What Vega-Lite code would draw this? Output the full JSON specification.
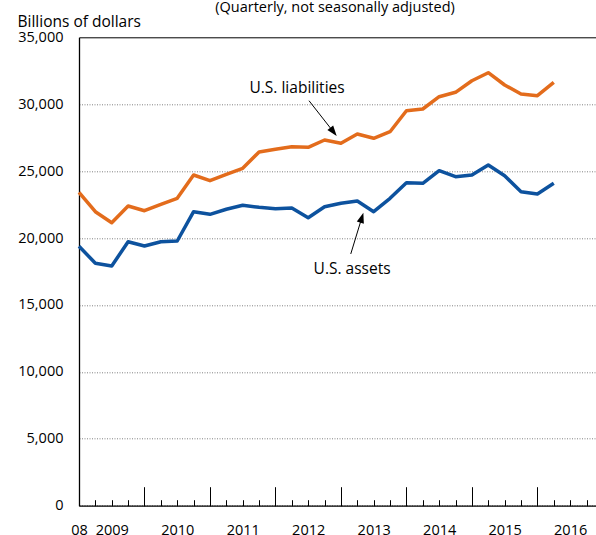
{
  "$schema": "https://vega.github.io/schema/vega-lite/v6.json",
  "width": 517,
  "height": 468.4,
  "autosize": {"type": "none"},
  "padding": {"left": 79, "top": 37.3, "right": 0, "bottom": 29.3},
  "config": {
    "font": "Open Sans",
    "view": {"stroke": null},
    "axis": {
      "labelFont": "Open Sans",
      "labelFontSize": 14.5,
      "labelColor": "#000000",
      "titleFont": "Open Sans",
      "titleFontSize": 14.5,
      "titleFontWeight": "normal",
      "titleColor": "#000000",
      "domainColor": "#000000",
      "tickColor": "#000000"
    }
  },
  "datasets": {
    "position": [
      {"q": 0, "series": "U.S. liabilities", "value": 23418},
      {"q": 1, "series": "U.S. liabilities", "value": 21968},
      {"q": 2, "series": "U.S. liabilities", "value": 21146},
      {"q": 3, "series": "U.S. liabilities", "value": 22394},
      {"q": 4, "series": "U.S. liabilities", "value": 22043},
      {"q": 5, "series": "U.S. liabilities", "value": 22521},
      {"q": 6, "series": "U.S. liabilities", "value": 22969},
      {"q": 7, "series": "U.S. liabilities", "value": 24711},
      {"q": 8, "series": "U.S. liabilities", "value": 24284},
      {"q": 9, "series": "U.S. liabilities", "value": 24762},
      {"q": 10, "series": "U.S. liabilities", "value": 25211},
      {"q": 11, "series": "U.S. liabilities", "value": 26429},
      {"q": 12, "series": "U.S. liabilities", "value": 26630},
      {"q": 13, "series": "U.S. liabilities", "value": 26825},
      {"q": 14, "series": "U.S. liabilities", "value": 26780},
      {"q": 15, "series": "U.S. liabilities", "value": 27325},
      {"q": 16, "series": "U.S. liabilities", "value": 27079},
      {"q": 17, "series": "U.S. liabilities", "value": 27774},
      {"q": 18, "series": "U.S. liabilities", "value": 27453},
      {"q": 19, "series": "U.S. liabilities", "value": 27946},
      {"q": 20, "series": "U.S. liabilities", "value": 29515},
      {"q": 21, "series": "U.S. liabilities", "value": 29642},
      {"q": 22, "series": "U.S. liabilities", "value": 30561},
      {"q": 23, "series": "U.S. liabilities", "value": 30890},
      {"q": 24, "series": "U.S. liabilities", "value": 31757},
      {"q": 25, "series": "U.S. liabilities", "value": 32355},
      {"q": 26, "series": "U.S. liabilities", "value": 31435},
      {"q": 27, "series": "U.S. liabilities", "value": 30763},
      {"q": 28, "series": "U.S. liabilities", "value": 30636},
      {"q": 29, "series": "U.S. liabilities", "value": 31637},
      {"q": 0, "series": "U.S. assets", "value": 19390},
      {"q": 1, "series": "U.S. assets", "value": 18113},
      {"q": 2, "series": "U.S. assets", "value": 17911},
      {"q": 3, "series": "U.S. assets", "value": 19727},
      {"q": 4, "series": "U.S. assets", "value": 19405},
      {"q": 5, "series": "U.S. assets", "value": 19727},
      {"q": 6, "series": "U.S. assets", "value": 19779},
      {"q": 7, "series": "U.S. assets", "value": 21968},
      {"q": 8, "series": "U.S. assets", "value": 21774},
      {"q": 9, "series": "U.S. assets", "value": 22148},
      {"q": 10, "series": "U.S. assets", "value": 22446},
      {"q": 11, "series": "U.S. assets", "value": 22297},
      {"q": 12, "series": "U.S. assets", "value": 22192},
      {"q": 13, "series": "U.S. assets", "value": 22245},
      {"q": 14, "series": "U.S. assets", "value": 21520},
      {"q": 15, "series": "U.S. assets", "value": 22342},
      {"q": 16, "series": "U.S. assets", "value": 22596},
      {"q": 17, "series": "U.S. assets", "value": 22767},
      {"q": 18, "series": "U.S. assets", "value": 21968},
      {"q": 19, "series": "U.S. assets", "value": 22968},
      {"q": 20, "series": "U.S. assets", "value": 24135},
      {"q": 21, "series": "U.S. assets", "value": 24090},
      {"q": 22, "series": "U.S. assets", "value": 25032},
      {"q": 23, "series": "U.S. assets", "value": 24584},
      {"q": 24, "series": "U.S. assets", "value": 24710},
      {"q": 25, "series": "U.S. assets", "value": 25457},
      {"q": 26, "series": "U.S. assets", "value": 24658},
      {"q": 27, "series": "U.S. assets", "value": 23463},
      {"q": 28, "series": "U.S. assets", "value": 23291},
      {"q": 29, "series": "U.S. assets", "value": 24090}
    ],
    "arrows": [
      {"name": "liabilities", "q": 14.05, "value": 30263, "q2": 15.51, "value2": 27983},
      {"name": "assets", "q": 16.6, "value": 18811, "q2": 17.26, "value2": 21460}
    ],
    "arrowheads": [
      {"name": "liabilities", "q": 15.51, "value": 27983},
      {"name": "assets", "q": 17.26, "value": 21460}
    ],
    "labels": [
      {"text": "U.S. liabilities", "q": 13.32, "value": 30832},
      {"text": "U.S. assets", "q": 16.68, "value": 17311}
    ]
  },
  "resolve": {"axis": {"x": "independent"}},
  "encoding": {
    "y": {
      "field": "value",
      "type": "quantitative",
      "scale": {"domain": [0, 35000], "nice": false},
      "title": "Billions of dollars",
      "axis": {
        "values": [0, 5000, 10000, 15000, 20000, 25000, 30000, 35000],
        "format": ",.0f",
        "ticks": false,
        "labelPadding": 16,
        "domainWidth": 1.3,
        "grid": true,
        "gridColor": {"condition": {"test": "datum.value == 35000", "value": "#000000"}, "value": "#808080"},
        "gridDash": {"condition": {"test": "datum.value == 35000", "value": []}, "value": [1, 1.5]},
        "gridWidth": 1,
        "titleFontSize": 15.5,
        "titleAngle": 0,
        "titleAlign": "left",
        "titleBaseline": "alphabetic",
        "titleX": -62,
        "titleY": -10.7
      }
    }
  },
  "layer": [
    {
      "data": {"name": "position"},
      "mark": {"type": "line", "strokeWidth": 3.5, "strokeJoin": "round"},
      "encoding": {
        "x": {
          "field": "q",
          "type": "quantitative",
          "scale": {"domain": [0, 31.58], "nice": false, "zero": false},
          "axis": {
            "values": [0,1,2,3,4,5,6,7,8,9,10,11,12,13,14,15,16,17,18,19,20,21,22,23,24,25,26,27,28,29,30,31],
            "orient": "bottom",
            "tickSize": -6,
            "tickWidth": 1,
            "domainWidth": 1.3,
            "grid": false,
            "labelOverlap": false,
            "labelFlush": false,
            "labelBaseline": "alphabetic",
            "labelPadding": 35,
            "labelExpr": "datum.value == 0 ? '08' : ((datum.value - 2) % 4 == 0 ? '' + (2009 + (datum.value - 2) / 4) : '')",
            "title": null
          }
        },
        "color": {
          "field": "series",
          "type": "nominal",
          "scale": {"domain": ["U.S. liabilities", "U.S. assets"], "range": ["#E36C1C", "#0D529E"]},
          "legend": null
        }
      }
    },
    {
      "data": {"name": "arrows"},
      "mark": {"type": "rule", "color": "#000000", "strokeWidth": 1},
      "encoding": {
        "x": {
          "field": "q",
          "type": "quantitative",
          "axis": {
            "values": [4, 8, 12, 16, 20, 24, 28],
            "orient": "bottom",
            "tickSize": -19,
            "tickWidth": 1,
            "labels": false,
            "domain": false,
            "grid": false,
            "title": null
          }
        },
        "x2": {"field": "q2"},
        "y2": {"field": "value2"}
      }
    },
    {
      "data": {"name": "arrowheads"},
      "transform": [{"filter": "datum.name == 'liabilities'"}],
      "mark": {"type": "point", "shape": "M0,-1L0.6,0.7L-0.6,0.7Z", "filled": true, "color": "#000000", "opacity": 1, "size": 150, "angle": 141.9},
      "encoding": {
        "x": {"field": "q", "type": "quantitative", "axis": null}
      }
    },
    {
      "data": {"name": "arrowheads"},
      "transform": [{"filter": "datum.name == 'assets'"}],
      "mark": {"type": "point", "shape": "M0,-1L0.6,0.7L-0.6,0.7Z", "filled": true, "color": "#000000", "opacity": 1, "size": 150, "angle": 17},
      "encoding": {
        "x": {"field": "q", "type": "quantitative", "axis": null}
      }
    },
    {
      "data": {"name": "labels"},
      "mark": {"type": "text", "font": "Open Sans", "fontSize": 15.5, "color": "#000000", "align": "center", "baseline": "alphabetic"},
      "encoding": {
        "x": {
          "field": "q",
          "type": "quantitative",
          "axis": {
            "orient": "top",
            "ticks": false,
            "labels": false,
            "domain": false,
            "grid": false,
            "title": "(Quarterly, not seasonally adjusted)",
            "titleFontSize": 14.5,
            "titleX": 255.5,
            "titleY": -26.3,
            "titleAlign": "center",
            "titleBaseline": "alphabetic"
          }
        },
        "text": {"field": "text"}
      }
    }
  ]
}
